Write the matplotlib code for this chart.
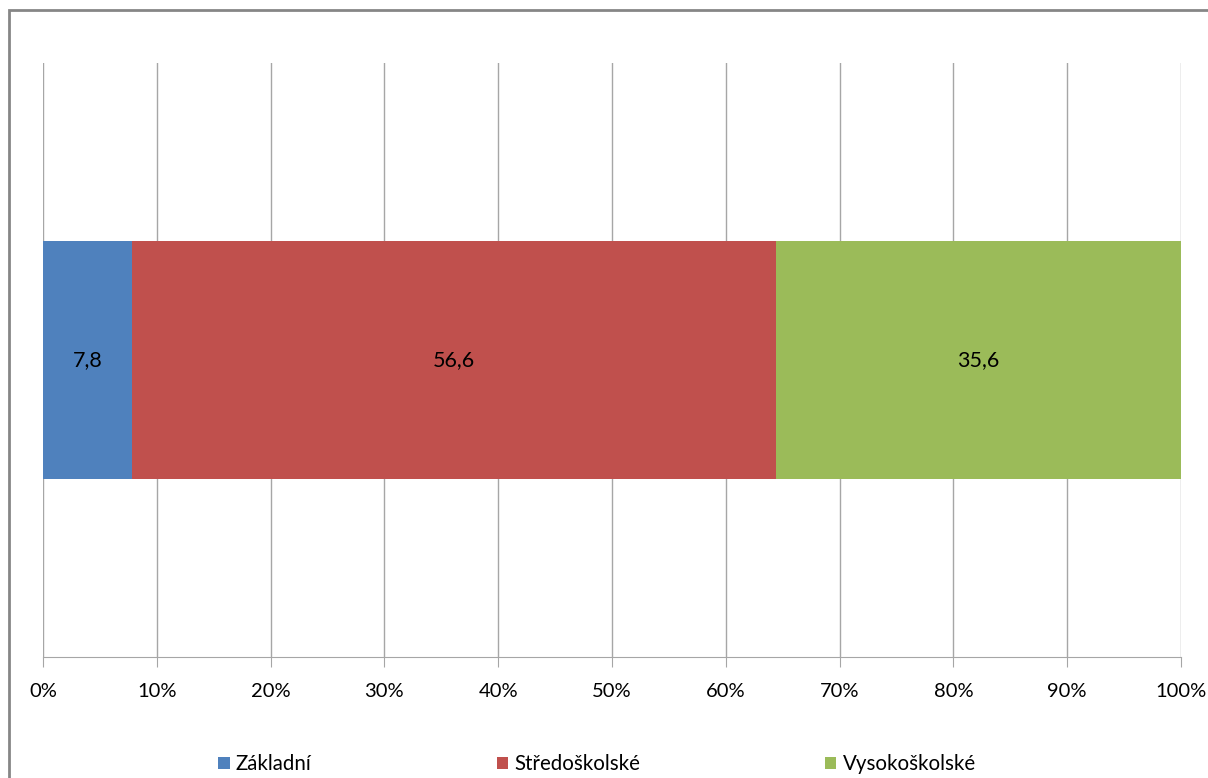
import matplotlib.pyplot as plt
from matplotlib.patches import Rectangle

plt.rcParams['font.family'] = ['Lato', 'DejaVu Sans']

kategorie = ['Základní', 'Středoškolské', 'Vysokoškolské']
hodnoty = [7.8, 56.6, 35.6]
barvy = ['#4F81BD', '#C0504D', '#9BBB59']
popisky = ['7,8', '56,6', '35,6']
ticky = [0, 10, 20, 30, 40, 50, 60, 70, 80, 90, 100]

W, H = 1208, 778
fig = plt.figure(figsize=(W / 100, H / 100), dpi=100)

# outer chart frame (right and bottom edges are cut off)
fig.patches.append(Rectangle((9 / W, -0.1), 1.1, 1 - 10 / H + 0.1, transform=fig.transFigure,
                             fill=False, edgecolor='#868686', linewidth=2))

ax = fig.add_axes([43 / W, 1 - 657 / H, (1181 - 43) / W, (657 - 63) / H])

soucet = sum(hodnoty)
left = 0
for kat, val, c, lab in zip(kategorie, hodnoty, barvy, popisky):
    w = val / soucet * 100
    ax.barh(0, w, left=left, height=0.4, color=c, label=kat, zorder=3)
    ax.text(left + w / 2, 0, lab, ha='center', va='center', fontsize=15.5, color='black', zorder=4)
    left += w

ax.set_xlim(0, 100)
ax.set_ylim(-0.5, 0.5)
ax.set_xticks(ticks=ticky, labels=[f'{t}%' for t in ticky])
ax.set_yticks([])
ax.grid(axis='x', color='#A6A6A6', linewidth=1, zorder=0)
for s in ['top', 'right', 'left']:
    ax.spines[s].set_visible(False)
ax.spines['bottom'].set_color('#A6A6A6')
ax.tick_params(axis='x', length=7, color='#A6A6A6', labelsize=14.5, pad=12)

fig.legend(loc='center', bbox_to_anchor=(597 / W, 1 - 764 / H), ncol=3, frameon=False,
           fontsize=14.8, handlelength=0.55, handleheight=0.55, handletextpad=0.3,
           columnspacing=9.0)

fig.savefig('out.png', dpi=100)
